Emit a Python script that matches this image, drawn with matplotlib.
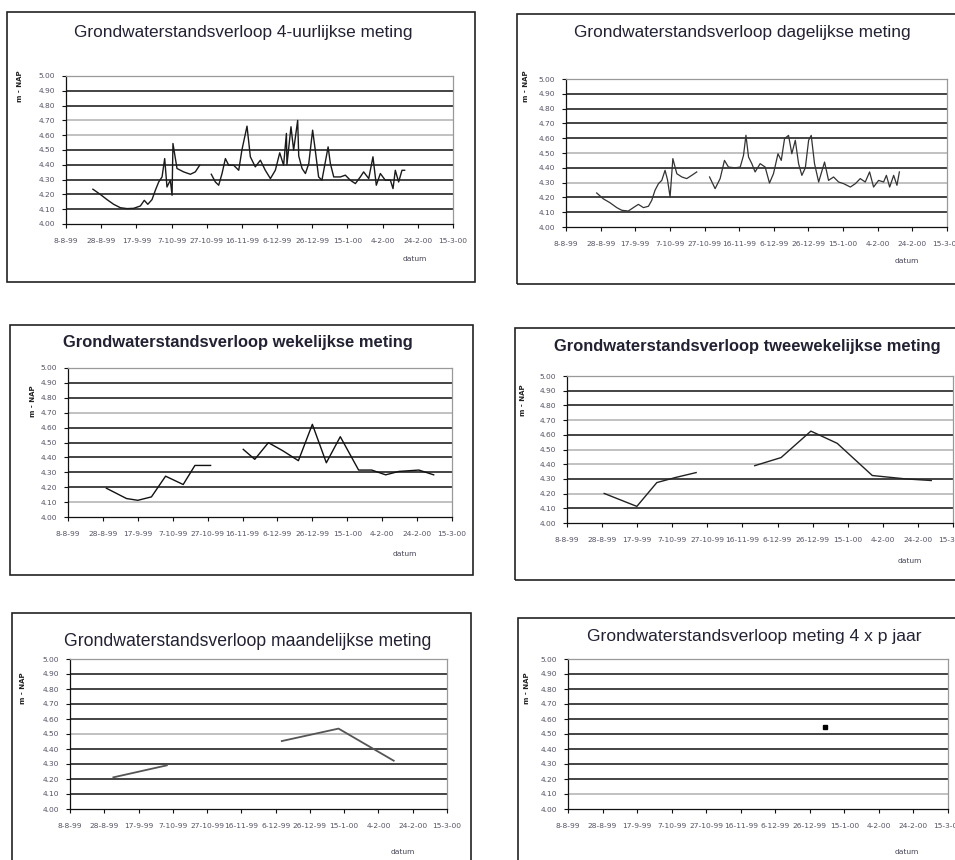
# coding: utf-8
# Grondwaterstandsverloop - zes meetfrequenties
import numpy as np
import pandas as pd
import matplotlib.pyplot as plt
from matplotlib.patches import Rectangle

nan = np.nan
start = '1999-08-08'

# x-as: datums om de 20 dagen
tick_dates = ['1999-08-08', '1999-08-28', '1999-09-17', '1999-10-07', '1999-10-27', '1999-11-16',
              '1999-12-06', '1999-12-26', '2000-01-15', '2000-02-04', '2000-02-24', '2000-03-15']
tick_labels = ['8-8-99', '28-8-99', '17-9-99', '7-10-99', '27-10-99', '16-11-99',
               '6-12-99', '26-12-99', '15-1-00', '4-2-00', '24-2-00', '15-3-00']
y_ticks = [4.0, 4.1, 4.2, 4.3, 4.4, 4.5, 4.6, 4.7, 4.8, 4.9, 5.0]

# 4-uurlijkse meting (dagen na 8-8-99, m - NAP)
days_4u = [15.3, 19.5, 23.3, 27.1, 30.9, 34.7, 38.5, 42.3, 44.5, 46.5, 48.9, 50.8, 52.7, 54.6, 56.1, 57.4,
           59.3, 60.3, 60.8, 63.1, 66.9, 70.7, 73.5, 76.0, 79.0,
           82.6, 84.9, 86.8, 88.7, 90.6, 92.5, 95.3, 98.2, 100.0, 102.9, 104.8, 107.6, 110.5, 113.3,
           116.2, 119.0, 121.5, 123.7, 125.3, 125.6, 127.9, 129.4, 131.7, 132.3, 134.2, 136.1, 138.0,
           140.2, 141.7, 143.6, 145.5, 149.0, 150.3, 152.2, 156.0, 158.8, 161.6, 164.5, 167.3, 169.2,
           172.1, 174.5, 176.4, 178.7, 181.5, 184.4, 185.9, 187.2, 189.1, 191.0, 192.5]
nap_4u = [4.235, 4.20, 4.165, 4.133, 4.11, 4.104, 4.106, 4.122, 4.16, 4.133, 4.165, 4.228, 4.284, 4.318,
          4.442, 4.25, 4.296, 4.194, 4.544, 4.375, 4.352, 4.336, 4.352, 4.397, nan,
          4.336, 4.284, 4.262, 4.341, 4.442, 4.397, 4.397, 4.363, 4.50, 4.661, 4.454, 4.386, 4.431, 4.363,
          4.307, 4.363, 4.481, 4.397, 4.612, 4.40, 4.657, 4.499, 4.70, 4.46, 4.375, 4.341, 4.408,
          4.634, 4.499, 4.318, 4.296, 4.521, 4.408, 4.318, 4.318, 4.33, 4.296, 4.273, 4.318, 4.352,
          4.307, 4.454, 4.262, 4.341, 4.296, 4.296, 4.239, 4.363, 4.284, 4.363, 4.363]

# dagelijkse meting
days_dag = [17.7, 21.6, 25.4, 29.3, 32.2, 36.0, 38.9, 41.8, 44.7, 47.6, 49.5, 51.4, 53.4, 55.3, 57.2,
            58.6, 60.1, 61.7, 64.0, 66.9, 69.7, 72.6, 75.5, 79.0,
            82.9, 86.1, 89.0, 91.5, 93.8, 97.7, 100.6, 102.5, 103.9, 105.4, 107.3, 109.2, 112.1, 115.0,
            117.5, 119.8, 122.4, 124.3, 126.2, 128.5, 130.4, 132.4, 134.3, 136.2, 138.2, 140.1, 141.6,
            143.5, 145.9, 149.3, 151.6, 154.5, 157.4, 160.3, 164.2, 167.1, 169.9, 172.8, 175.3, 177.6,
            180.5, 183.4, 185.0, 186.9, 189.2, 191.1, 192.5]
nap_dag = [4.23, 4.19, 4.164, 4.131, 4.113, 4.108, 4.131, 4.153, 4.131, 4.14, 4.18, 4.248, 4.293, 4.315,
           4.383, 4.32, 4.203, 4.462, 4.36, 4.338, 4.327, 4.349, 4.372, nan,
           4.338, 4.259, 4.327, 4.45, 4.405, 4.40, 4.405, 4.484, 4.62, 4.473, 4.428, 4.372, 4.428, 4.405,
           4.297, 4.36, 4.495, 4.45, 4.597, 4.619, 4.495, 4.586, 4.428, 4.349, 4.40, 4.586, 4.619,
           4.428, 4.304, 4.439, 4.315, 4.338, 4.304, 4.293, 4.27, 4.293, 4.327, 4.304, 4.372, 4.27,
           4.315, 4.304, 4.349, 4.27, 4.349, 4.282, 4.372]

# wekelijkse meting
days_week = [22.0, 33.5, 40.0, 47.8, 55.9, 66.0, 72.7, 81.7, 90.0,
             100.4, 107.0, 114.8, 123.0, 132.0, 140.0, 148.0, 156.0, 166.5, 174.0, 182.0, 189.6, 201.0, 209.5]
nap_week = [4.193, 4.124, 4.112, 4.135, 4.274, 4.218, 4.346, 4.346, nan,
            4.454, 4.387, 4.499, 4.445, 4.378, 4.622, 4.364, 4.539, 4.315, 4.315, 4.283, 4.306, 4.315, 4.283]

# tweewekelijkse meting
days_2week = [21.2, 39.8, 51.2, 62.0, 73.6, 90.0, 107.0, 122.0, 139.0, 154.0, 174.0, 193.0, 207.6]
nap_2week = [4.201, 4.113, 4.275, 4.31, 4.343, nan, 4.39, 4.445, 4.625, 4.542, 4.323, 4.30, 4.289]

# maandelijkse meting
days_maand = [25.3, 56.5, 90.0, 123.6, 156.7, 188.9]
nap_maand = [4.211, 4.291, nan, 4.453, 4.536, 4.322]

# meting 4 x per jaar
days_kwart = [149.0]
nap_kwart = [4.545]

titles = ['Grondwaterstandsverloop 4-uurlijkse meting',
          'Grondwaterstandsverloop dagelijkse meting',
          'Grondwaterstandsverloop wekelijkse meting',
          'Grondwaterstandsverloop tweewekelijkse meting',
          'Grondwaterstandsverloop maandelijkse meting',
          'Grondwaterstandsverloop meting 4 x p jaar']

W, H = 955, 860
fig = plt.figure(figsize=(W / 100, H / 100), dpi=100)
fig.patch.set_facecolor('white')


def fx(x):
    return x / W


def fy(y):
    return 1 - y / H


# kader, assen, titel, datum, ylabel (pixels)
boxes = [(7, 12, 475, 282), (517, 14, 962, 284), (10, 325, 473, 575),
         (515, 328, 962, 580), (12, 613, 471, 870), (518, 618, 962, 870)]
axpos = [(66, 76, 453, 224), (566, 79, 947, 227), (68, 368, 452, 517),
         (567, 376, 953, 523), (70, 659, 447, 809), (568, 659, 948, 809)]
titlepos = [(243, 32), (742, 33), (238, 343), (747, 347), (248, 642), (754, 637)]
datumpos = [(415, 259), (907, 261), (405, 554), (910, 561), (403, 852), (907, 852)]
ylabpos = [(20, 86), (526, 86), (33, 401), (523, 400), (23, 688), (527, 688)]
bold = [False, False, True, True, False, False]
title_size = [12.4, 12.4, 11.9, 11.9, 12.7, 12.6]

# kleur van de rasterlijnen 4.10 .. 5.00 per grafiek (zoals in de scan)
k, g = '#111111', '#b0b0b0'
gridcols = [[k, k, k, k, k, g, g, k, k, g],
            [k, k, g, k, g, k, k, k, k, k],
            [g, k, k, k, k, k, g, k, k, g],
            [k, g, k, g, g, k, g, k, k, g],
            [k, k, k, k, g, k, k, k, k, g],
            [g, k, k, k, k, k, k, k, k, g]]

series = [(days_4u, nap_4u), (days_dag, nap_dag), (days_week, nap_week),
          (days_2week, nap_2week), (days_maand, nap_maand), (days_kwart, nap_kwart)]
linecols = ['#1a1a1a', '#333333', '#111111', '#222222', '#555555', '#000000']
linew = [1.0, 0.9, 1.0, 1.0, 1.3, 1.0]

xt = pd.to_datetime(tick_dates)

for i in range(6):
    x0, y0, x1, y1 = boxes[i]
    fig.patches.append(Rectangle((fx(x0), fy(y1)), fx(x1 - x0), (y1 - y0) / H, transform=fig.transFigure,
                                 fill=False, edgecolor='#222222', linewidth=1.2))

    l, t, r, b = axpos[i]
    ax = fig.add_axes([fx(l), fy(b), fx(r - l), (b - t) / H])

    # rasterlijnen
    for yv, c in zip(y_ticks[1:], gridcols[i]):
        ax.axhline(yv, color=c, linewidth=1.1, zorder=1)

    days, vals = series[i]
    xs = pd.to_datetime(start) + pd.to_timedelta(days, unit='D')
    if i == 5:
        ax.plot(xs, vals, 's', color=linecols[i], markersize=3.5, zorder=3)
    else:
        ax.plot(xs, vals, '-', color=linecols[i], linewidth=linew[i], zorder=3)

    ax.set_xlim(xt[0], xt[-1])
    ax.set_ylim(4.0, 5.0)
    ax.set_xticks(xt)
    ax.set_xticklabels(tick_labels)
    ax.set_yticks(y_ticks)
    ax.set_yticklabels(['%.2f' % v for v in y_ticks])
    ax.tick_params(axis='both', labelsize=5.4, length=3, width=0.8, colors='#111111',
                   labelcolor='#555566', direction='out')
    ax.tick_params(axis='x', pad=7)
    ax.tick_params(axis='y', pad=5)

    ax.spines['left'].set_color('#111111')
    ax.spines['bottom'].set_color('#111111')
    ax.spines['top'].set_color('#999999')
    ax.spines['right'].set_color('#999999')
    for s in ax.spines.values():
        s.set_linewidth(0.9)

    fig.text(fx(titlepos[i][0]), fy(titlepos[i][1]), titles[i], ha='center', va='center',
             fontsize=title_size[i], fontweight='bold' if bold[i] else 'normal',
             family='Liberation Sans', color='#222233')
    fig.text(fx(datumpos[i][0]), fy(datumpos[i][1]), 'datum', ha='center', va='center',
             fontsize=5.4, color='#444455')
    fig.text(fx(ylabpos[i][0]), fy(ylabpos[i][1]), 'm - NAP', ha='center', va='center',
             rotation=90, fontsize=5, fontweight='bold', color='#222222')

plt.savefig('out.png', dpi=100)
